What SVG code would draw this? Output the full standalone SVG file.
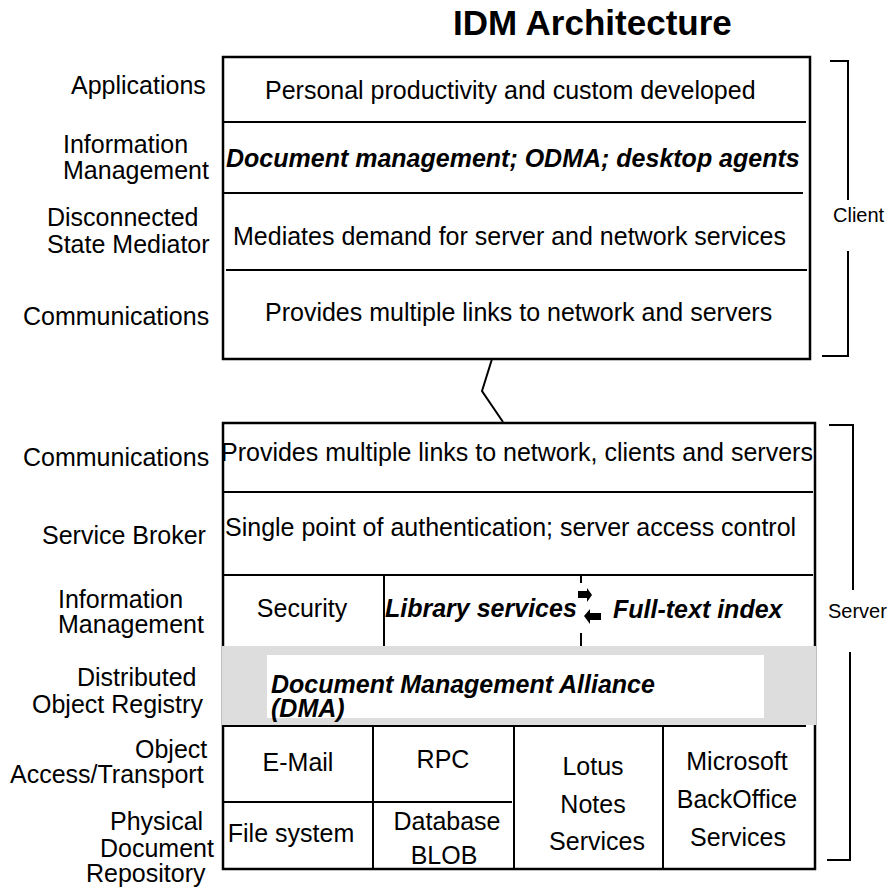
<svg xmlns="http://www.w3.org/2000/svg" width="896" height="892" viewBox="0 0 896 892">
<style>
text{font-family:"Liberation Sans",Arial,sans-serif;font-size:25px;fill:#000}
.bi{font-weight:bold;font-style:italic}
.m{text-anchor:middle}
.side{font-size:20px}
.ln{stroke:#000;stroke-width:2;fill:none}
.box{stroke:#000;stroke-width:2.5;fill:#fff}
</style>
<rect width="896" height="892" fill="#fff"/>
<text x="453" y="35" style="font-size:35px;font-weight:bold">IDM Architecture</text>

<g id="client-labels">
<text x="71" y="94">Applications</text>
<text x="63" y="153">Information</text>
<text x="63" y="179">Management</text>
<text x="47" y="226">Disconnected</text>
<text x="47" y="253">State Mediator</text>
<text x="23" y="325">Communications</text>
</g>

<g id="client-stack">
<rect class="box" x="223" y="57" width="587" height="302"/>
<line class="ln" x1="223" y1="122" x2="806" y2="122"/>
<line class="ln" x1="223" y1="193" x2="803" y2="193"/>
<line class="ln" x1="226" y1="270" x2="807" y2="270"/>
<text x="265" y="99">Personal productivity and custom developed</text>
<text x="226" y="167" class="bi">Document management; ODMA; desktop agents</text>
<text x="233" y="245">Mediates demand for server and network services</text>
<text x="265" y="321">Provides multiple links to network and servers</text>
</g>

<g id="client-bracket">
<path class="ln" d="M830,61 H848 V200 M848,251 V356 H822"/>
<text class="side" x="833" y="222">Client</text>
</g>

<g id="connectors">
<polyline class="ln" points="492,359 482,391 503,422"/>
</g>

<g id="server-labels">
<text x="23" y="466">Communications</text>
<text x="42" y="544">Service Broker</text>
<text x="58" y="608">Information</text>
<text x="58" y="633">Management</text>
<text x="77" y="686">Distributed</text>
<text x="32" y="713">Object Registry</text>
<text x="135" y="758">Object</text>
<text x="10" y="783">Access/Transport</text>
<text x="110" y="830">Physical</text>
<text x="100" y="857">Document</text>
<text x="86" y="882">Repository</text>
</g>

<g id="server-stack">
<rect class="box" x="223" y="423" width="592" height="446"/>
<line class="ln" x1="223" y1="492" x2="813" y2="492"/>
<line class="ln" x1="223" y1="575" x2="813" y2="575"/>
<text x="221" y="461">Provides multiple links to network, clients and servers</text>
<text x="225" y="536">Single point of authentication; server access control</text>
</g>

<g id="info-management">
<line class="ln" x1="384" y1="575" x2="384" y2="646"/>
<text class="m" x="302" y="617">Security</text>
<text class="bi" x="385" y="617">Library services</text>
<line class="ln" x1="581" y1="575" x2="581" y2="583"/>
<line class="ln" x1="581" y1="633" x2="581" y2="646"/>
<polygon points="578,591 587,591 587,588 592,595 587,602 587,598 578,598" fill="#000"/>
<polygon points="584,616 590,609 590,613 601,613 601,620 590,620 590,624" fill="#000"/>
<text class="bi" x="613" y="618">Full-text index</text>
</g>

<g id="dma">
<rect x="222" y="646" width="594" height="79" fill="#dddddd"/>
<rect x="267" y="655" width="497" height="63" fill="#fff"/>
<text class="bi" x="271" y="693">Document Management Alliance</text>
<text class="bi" x="271" y="717">(DMA)</text>
<line class="ln" x1="223" y1="726" x2="806" y2="726"/>
</g>

<g id="repositories">
<line class="ln" x1="373" y1="726" x2="373" y2="868"/>
<line class="ln" x1="514" y1="726" x2="514" y2="869"/>
<line class="ln" x1="663" y1="726" x2="663" y2="869"/>
<line class="ln" x1="223" y1="802" x2="512" y2="802"/>
<text class="m" x="298" y="771">E-Mail</text>
<text class="m" x="443" y="768">RPC</text>
<text class="m" x="593" y="775">Lotus</text>
<text class="m" x="593" y="813">Notes</text>
<text class="m" x="597" y="850">Services</text>
<text class="m" x="737" y="770">Microsoft</text>
<text class="m" x="737" y="808">BackOffice</text>
<text class="m" x="738" y="846">Services</text>
<text class="m" x="291" y="842">File system</text>
<text class="m" x="447" y="830">Database</text>
<text class="m" x="444" y="864">BLOB</text>
</g>

<g id="server-bracket">
<path class="ln" d="M829,425 H853 V590 M850,652 V860 H827"/>
<text class="side" x="828" y="618">Server</text>
</g>
</svg>
